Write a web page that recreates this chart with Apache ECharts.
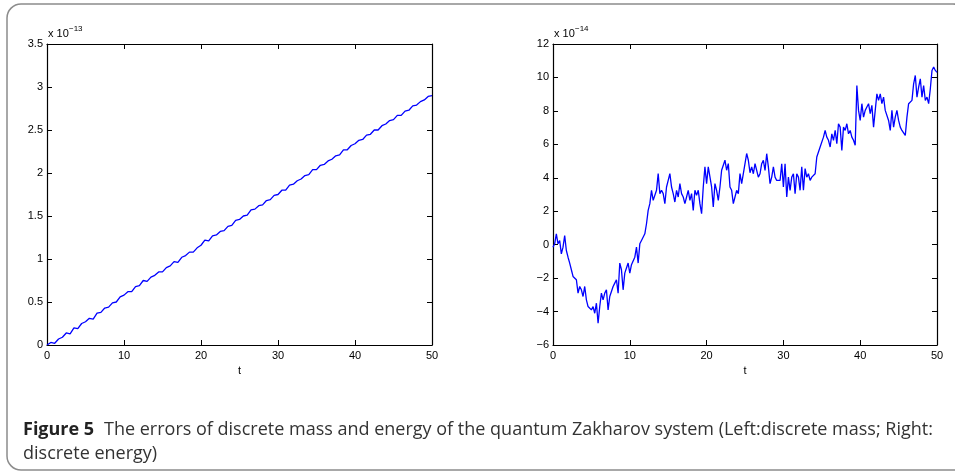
<!DOCTYPE html>
<html>
<head>
    <title>Figure 5</title>
    <meta charset="utf-8" />
    <script src="https://cdn.jsdelivr.net/npm/echarts@6/dist/echarts.min.js"></script>
    <style>
        html, body { margin: 0; padding: 0; background: #fff; }
        #chart { width: 955px; height: 473px; }
    </style>
</head>
<body>
    <div id="chart"></div>
    <script>
        // 左图：离散质量误差（单位 1e-13），t 每隔 0.5 取一点
        var massStep = 0.5;
        var massValues = [
            0.00, 0.03, 0.02, 0.07, 0.09, 0.14, 0.13, 0.20, 0.19, 0.25,
            0.27, 0.31, 0.30, 0.37, 0.38, 0.43, 0.44, 0.49, 0.50, 0.56,
            0.58, 0.62, 0.62, 0.68, 0.69, 0.75, 0.74, 0.79, 0.81, 0.85,
            0.85, 0.90, 0.92, 0.97, 0.96, 1.02, 1.04, 1.08, 1.08, 1.13,
            1.16, 1.22, 1.21, 1.27, 1.28, 1.32, 1.33, 1.38, 1.39, 1.45,
            1.46, 1.50, 1.51, 1.57, 1.58, 1.62, 1.63, 1.68, 1.69, 1.74,
            1.75, 1.80, 1.80, 1.86, 1.87, 1.91, 1.93, 1.97, 1.98, 2.04,
            2.04, 2.09, 2.10, 2.14, 2.16, 2.20, 2.21, 2.27, 2.27, 2.32,
            2.34, 2.38, 2.39, 2.44, 2.45, 2.50, 2.50, 2.55, 2.57, 2.61,
            2.62, 2.67, 2.67, 2.72, 2.73, 2.78, 2.79, 2.83, 2.85, 2.89,
            2.90
        ];

        // 右图：离散能量误差（单位 1e-14），t 每隔 50/230 取一点
        var energyStep = 50 / 230;
        var energyValues = [
            -0.15, 0.05, 0.65, 0.05, 0.25, -0.55, -0.15, 0.55, -0.35, -0.75,
            -1.10, -1.50, -1.90, -2.00, -2.10, -2.90, -2.50, -2.70, -3.10, -2.50,
            -3.30, -3.70, -3.60, -3.90, -3.70, -4.10, -3.50, -4.70, -3.70, -2.90,
            -3.30, -2.90, -2.70, -3.90, -3.10, -2.80, -2.50, -2.30, -2.10, -2.90,
            -1.10, -1.50, -2.70, -1.70, -1.40, -1.10, -1.70, -1.20, -1.10, -0.75,
            -0.15, -1.10, 0.05, 0.25, 0.15, 0.65, 1.25, 2.05, 2.45, 3.25,
            2.65, 2.55, 3.25, 4.25, 3.05, 3.25, 3.05, 2.45, 3.45, 3.85,
            4.25, 3.45, 3.05, 2.55, 3.25, 2.85, 3.65, 3.05, 2.85, 2.45,
            2.85, 3.25, 2.65, 3.05, 2.05, 3.25, 2.95, 3.25, 2.45, 1.85,
            3.45, 4.65, 3.65, 4.65, 4.05, 3.45, 2.25, 3.65, 3.25, 2.65,
            3.45, 4.45, 4.45, 5.05, 4.45, 4.85, 3.45, 3.25, 2.45, 2.85,
            3.25, 3.05, 4.25, 3.65, 3.65, 4.85, 5.45, 5.05, 4.30, 4.65,
            4.24, 4.84, 4.44, 4.04, 4.24, 4.84, 5.04, 4.44, 5.44, 4.65,
            3.65, 4.04, 4.65, 4.04, 3.84, 3.84, 3.84, 4.84, 3.45, 4.84,
            2.85, 4.04, 3.25, 4.04, 4.24, 3.05, 4.24, 4.04, 3.25, 4.65,
            3.25, 4.55, 4.04, 4.24, 3.84, 4.04, 4.10, 4.24, 5.24, 5.54,
            5.84, 5.94, 6.43, 6.83, 6.43, 6.24, 5.84, 6.63, 6.24, 6.83,
            6.04, 7.23, 7.03, 5.64, 7.03, 6.83, 7.23, 6.63, 6.83, 6.43,
            6.24, 5.94, 9.52, 8.03, 7.43, 8.43, 7.63, 8.03, 8.23, 8.43,
            7.83, 8.33, 7.03, 8.03, 9.02, 8.63, 9.02, 8.43, 8.82, 8.03,
            8.03, 7.43, 6.83, 8.03, 7.03, 7.63, 8.03, 7.43, 7.03, 6.83,
            6.83, 6.53, 7.63, 8.43, 8.33, 8.63, 9.62, 10.12, 8.82, 9.42,
            9.92, 8.82, 9.52, 8.63, 8.82, 8.43, 9.32, 10.42, 10.62, 10.42,
            10.30
        ];

        var tTicks = { min: 0, max: 50, interval: 10 };
        var massTicks = { min: 0, max: 3.5, interval: 0.5 };
        var energyTicks = { min: -6, max: 12, interval: 2 };

        function toPairs(values, step) {
            return values.map(function (v, i) { return [i * step, v]; });
        }

        var tickFont = '"Liberation Sans", Arial, sans-serif';
        var captionFont = '"Open Sans", "Noto Sans", sans-serif';

        // 坐标轴（MATLAB 风格的封闭框，刻度朝内）
        function makeAxis(kind, gridIndex, pos, range, showLabel, extra) {
            var axis = {
                type: 'value',
                gridIndex: gridIndex,
                position: pos,
                min: range.min,
                max: range.max,
                interval: range.interval,
                axisLine: { show: true, onZero: false, lineStyle: { color: '#000', width: 1.2 } },
                axisTick: { show: true, inside: true, length: 5, lineStyle: { color: '#000', width: 1 } },
                axisLabel: {
                    show: showLabel,
                    color: '#000',
                    fontSize: 11,
                    fontFamily: tickFont,
                    margin: kind === 'x' ? 5 : 4,
                    formatter: function (v) { return String(v).replace('-', '\u2212'); }
                },
                splitLine: { show: false }
            };
            for (var k in extra) axis[k] = extra[k];
            return axis;
        }

        var xName = { name: 't', nameLocation: 'middle', nameGap: 19,
            nameTextStyle: { color: '#000', fontSize: 11, fontFamily: tickFont } };

        function expLabel(x, power) {
            return [
                { type: 'text', style: { x: x, y: 34, text: 'x 10', font: '11px ' + tickFont, fill: '#000', textVerticalAlign: 'middle' } },
                { type: 'text', style: { x: x + 21, y: 29, text: '\u2212' + power, font: '8px ' + tickFont, fill: '#000', textVerticalAlign: 'middle' } }
            ];
        }

        var option = {
            animation: false,
            backgroundColor: '#fff',
            grid: [
                { left: 47, right: 523, top: 44, bottom: 128 },
                { left: 553, right: 18, top: 44, bottom: 128 }
            ],
            xAxis: [
                makeAxis('x', 0, 'bottom', tTicks, true, xName),
                makeAxis('x', 0, 'top', tTicks, false, {}),
                makeAxis('x', 1, 'bottom', tTicks, true, xName),
                makeAxis('x', 1, 'top', tTicks, false, {})
            ],
            yAxis: [
                makeAxis('y', 0, 'left', massTicks, true, {}),
                makeAxis('y', 0, 'right', massTicks, false, {}),
                makeAxis('y', 1, 'left', energyTicks, true, {}),
                makeAxis('y', 1, 'right', energyTicks, false, {})
            ],
            series: [
                {
                    type: 'line', xAxisIndex: 0, yAxisIndex: 0,
                    data: toPairs(massValues, massStep),
                    showSymbol: false,
                    lineStyle: { color: '#0000ff', width: 1.3 }
                },
                {
                    type: 'line', xAxisIndex: 2, yAxisIndex: 2,
                    data: toPairs(energyValues, energyStep),
                    showSymbol: false,
                    lineStyle: { color: '#0000ff', width: 1.3 }
                }
            ],
            graphic: [
                // 外框
                { type: 'rect', shape: { x: 7, y: 4, width: 960, height: 466, r: 14 },
                  style: { fill: 'none', stroke: '#8c8c8c', lineWidth: 1.5 }, silent: true },
                // 图注
                { type: 'text', style: { x: 23, y: 430, text: 'Figure 5', font: 'bold 18px ' + captionFont, fill: '#222', textVerticalAlign: 'middle' } },
                { type: 'text', style: { x: 104, y: 430, text: 'The errors of discrete mass and energy of the quantum Zakharov system (Left:discrete mass; Right:', font: '18px ' + captionFont, fill: '#333', textVerticalAlign: 'middle' } },
                { type: 'text', style: { x: 23, y: 454, text: 'discrete energy)', font: '18px ' + captionFont, fill: '#333', textVerticalAlign: 'middle' } }
            ].concat(expLabel(48, 13), expLabel(554, 14))
        };

        var chart = echarts.init(document.getElementById('chart'));
        chart.setOption(option);
    </script>
</body>
</html>
